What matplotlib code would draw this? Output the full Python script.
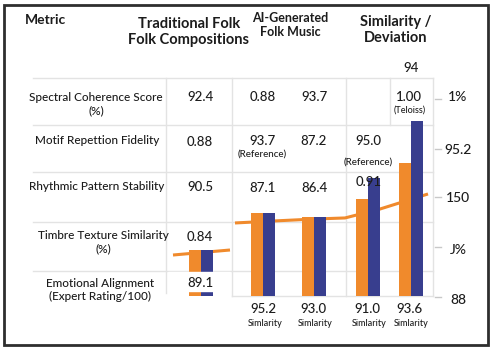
import matplotlib
matplotlib.use("Agg")
from matplotlib import pyplot as plt
from matplotlib.patches import Rectangle

plt.rcParams['font.family'] = ['Lato', 'DejaVu Sans']
plt.rcParams['font.weight'] = 'medium'

W, H = 493, 349
ORANGE = '#F08A2C'
NAVY = '#383E8E'
GRID = '#E3E3E3'
INK = '#1C1C1C'

# table content
headers = ["Metric", "Traditional Folk\nFolk Compositions", "AI-Generated\nFolk Music", "Similarity /\nDeviation"]
metrics = ["Spectral Coherence Score\n(%)", "Motif Repettion Fidelity", "Rhythmic Pattern Stability",
           "Timbre Texture Similarity\n(%)", "Emotional Alignment\n(Expert Rating/100)"]
traditional = ["92.4", "0.88", "90.5", "0.84", "89.1"]
ai_col_a = ["0.88", "93.7", "87.1"]
ai_col_b = ["93.7", "87.2", "86.4"]
similarity_cells = ["1.00", "95.0", "0.91"]
right_labels = ["1%", "95.2", "150", "J%", "88"]
bottom_values = ["95.2", "93.0", "91.0", "93.6"]

# bar series (percent of plot height) and the overlaid trend line
group_pos = [35, 97, 148, 202, 245]
orange_vals = [21.1, 38.1, 36.2, 44.5, 61.0]
navy_vals = [21.1, 38.1, 36.2, 54.1, 80.3]
trend1_x = [7, 64]
trend1_y = [18.8, 21.1]
trend2_x = [69, 107, 148, 179, 191, 214, 262]
trend2_y = [33.5, 34.4, 35.3, 35.8, 37.2, 39.9, 46.8]

fig = plt.figure(figsize=(W / 100, H / 100), dpi=100)

# background: frame and table grid
bg = fig.add_axes([0, 0, 1, 1], zorder=0)
bg.set_xlim(0, W)
bg.set_ylim(H, 0)
bg.axis('off')
bg.add_patch(Rectangle((4, 5), 484, 340, fill=False, ec='#2E2E2E', lw=2))
for y in [78, 125, 172, 222, 271]:
    bg.plot([33, 433], [y, y], color=GRID, lw=1)
bg.plot([232, 433], [296, 296], color=GRID, lw=1)
bg.plot([166, 166], [78, 293], color=GRID, lw=1)
for x in [232, 346, 433]:
    bg.plot([x, x], [78, 296], color=GRID, lw=1)
bg.plot([390, 390], [78, 125], color=GRID, lw=1)
for y in [99, 149, 197, 247, 297]:
    bg.plot([435, 441], [y, y], color='#C8C8C8', lw=1)

# bars and trend line
ax = fig.add_axes([166 / W, (H - 296) / H, 266 / W, 218 / H], zorder=1)
ax.set_xlim(0, 266)
ax.set_ylim(0, 100)
ax.axis('off')
ax.patch.set_alpha(0)
ax.plot(trend1_x, trend1_y, color=ORANGE, lw=2.2, zorder=1, solid_capstyle='butt')
ax.plot(trend2_x, trend2_y, color=ORANGE, lw=2.2, zorder=1, solid_capstyle='butt')
ax.bar([p - 6 for p in group_pos], orange_vals, width=12, color=ORANGE, zorder=2)
ax.bar([p + 6 for p in group_pos], navy_vals, width=12, color=NAVY, zorder=2)

# foreground text
fg = fig.add_axes([0, 0, 1, 1], zorder=2)
fg.set_xlim(0, W)
fg.set_ylim(H, 0)
fg.axis('off')
fg.patch.set_alpha(0)
fg.add_patch(Rectangle((168, 272), 62, 19, color='white', zorder=0))

hx = [46, 189, 290, 396]
hy = [20, 32, 25, 30]
hs = [10, 10.5, 9, 10.5]
for x, y, s, t in zip(hx, hy, hs, headers):
    fg.text(x, y, t, ha='center', va='center', fontsize=s, fontweight='bold',
            color=INK, linespacing=1.15)
fg.text(411, 68, "94", ha='center', va='center', fontsize=9.5, color=INK)

label_x = [96, 97, 97, 103, 100]
label_y = [104, 141, 187, 242, 290]
for x, y, t in zip(label_x, label_y, metrics):
    fg.text(x, y, t, ha='center', va='center', fontsize=8.5, color=INK, linespacing=1.3)

for y, t in zip([97, 142, 187, 237, 283], traditional):
    fg.text(200, y, t, ha='center', va='center', fontsize=9.5, color=INK)
for y, t in zip([97, 141, 188], ai_col_a):
    fg.text(263, y, t, ha='center', va='center', fontsize=9.5, color=INK)
for y, t in zip([97, 141, 188], ai_col_b):
    fg.text(314, y, t, ha='center', va='center', fontsize=9.5, color=INK)
for x, y, t in zip([409, 368, 369], [97, 141, 182], similarity_cells):
    fg.text(x, y, t, ha='center', va='center', fontsize=9.5, color=INK)
fg.text(410, 111, "(Teloiss)", ha='center', va='center', fontsize=6.5, color=INK)
fg.text(262, 155, "(Reference)", ha='center', va='center', fontsize=7, color=INK)
fg.text(368, 163, "(Reference)", ha='center', va='center', fontsize=7, color=INK)

for y, t in zip([97, 150, 198, 250, 300], right_labels):
    fg.text(458, y, t, ha='center', va='center', fontsize=10, color=INK)

for x, t in zip([263, 313, 367, 409], bottom_values):
    fg.text(x, 309, t, ha='center', va='center', fontsize=9.5, color=INK)
    fg.text(x + 2, 324, "Simlarity", ha='center', va='center', fontsize=6.5, color=INK)

fig.savefig('out.png', dpi=100)
